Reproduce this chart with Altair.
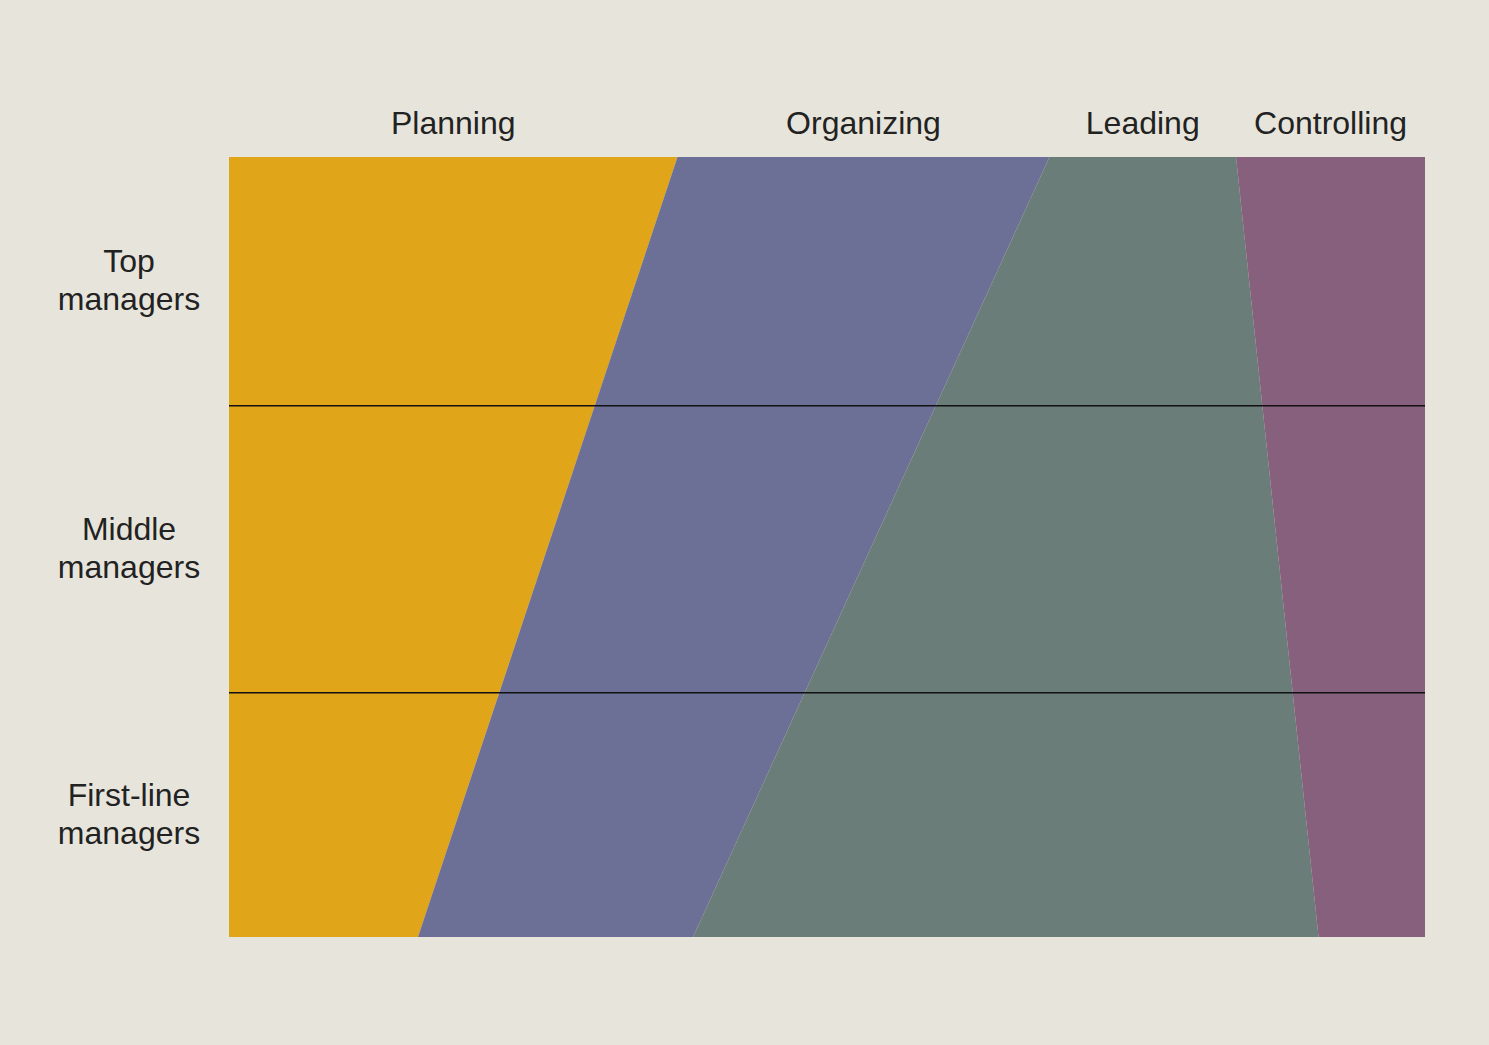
import altair as alt
import pandas as pd

# Management functions and share of time (%) at top and bottom of the hierarchy
functions = ["Planning", "Organizing", "Leading", "Controlling"]
share_top = [37.5, 31.1, 15.6, 15.8]      # top managers (level 100)
share_bottom = [15.8, 23.0, 52.3, 8.9]    # first-line managers (level 0)
colors = ["#E1A519", "#6D7096", "#6B7D78", "#86607C"]

# Manager tiers (level scale 0 = bottom, 100 = top)
tiers = ["Top\nmanagers", "Middle\nmanagers", "First-line\nmanagers"]
tier_upper = [100.0, 68.1, 31.3]
tier_lower = [68.1, 31.3, 0.0]

rows = []
for i, f in enumerate(functions):
    rows.append({"function": f, "idx": i, "level": 0, "share": share_bottom[i]})
    rows.append({"function": f, "idx": i, "level": 100, "share": share_top[i]})
area_df = pd.DataFrame(rows)

# column label positions: middle of each segment at the top
cum = 0
lab_rows = []
for f, s in zip(functions, share_top):
    lab_rows.append({"function": f, "mid": cum + s / 2})
    cum += s
lab_df = pd.DataFrame(lab_rows)

tier_df = pd.DataFrame({
    "tier": tiers,
    "center": [(u + l) / 2 for u, l in zip(tier_upper, tier_lower)],
})
rule_df = pd.DataFrame({"level": [l for l in tier_lower if l > 0]})

xs = alt.Scale(domain=[0, 100], nice=False, zero=False)
ys = alt.Scale(domain=[0, 100], nice=False, zero=False)

areas = alt.Chart(area_df).mark_area(orient="horizontal", opacity=1).encode(
    x=alt.X("share:Q", stack="zero", scale=xs, axis=None),
    y=alt.Y("level:Q", scale=ys, axis=None),
    color=alt.Color("function:N", scale=alt.Scale(domain=functions, range=colors), legend=None),
    order=alt.Order("idx:Q"),
)

rules = alt.Chart(rule_df).mark_rule(color="#111111", strokeWidth=1.5).encode(
    y=alt.Y("level:Q", scale=ys, axis=None),
)

col_labels = alt.Chart(lab_df).mark_text(
    font="Liberation Sans", fontSize=32, color="#222222", align="center", baseline="middle"
).encode(
    x=alt.X("mid:Q", scale=xs, axis=None),
    y=alt.value(-33),
    text="function:N",
)

row_labels = alt.Chart(tier_df).mark_text(
    font="Liberation Sans", fontSize=32, color="#222222", align="center", baseline="middle",
    lineBreak="\n", lineHeight=38, dy=-19,
).encode(
    x=alt.value(-100),
    y=alt.Y("center:Q", scale=ys, axis=None),
    text="tier:N",
)

chart = alt.layer(areas, rules, col_labels, row_labels).properties(
    width=1196, height=780,
    autosize=alt.AutoSizeParams(type="none"),
    padding={"left": 229, "top": 157, "right": 64, "bottom": 108},
    background="#E7E5DB",
).configure_view(stroke=None)

chart.save("out.html", embed_options={"renderer": "svg", "actions": False})
